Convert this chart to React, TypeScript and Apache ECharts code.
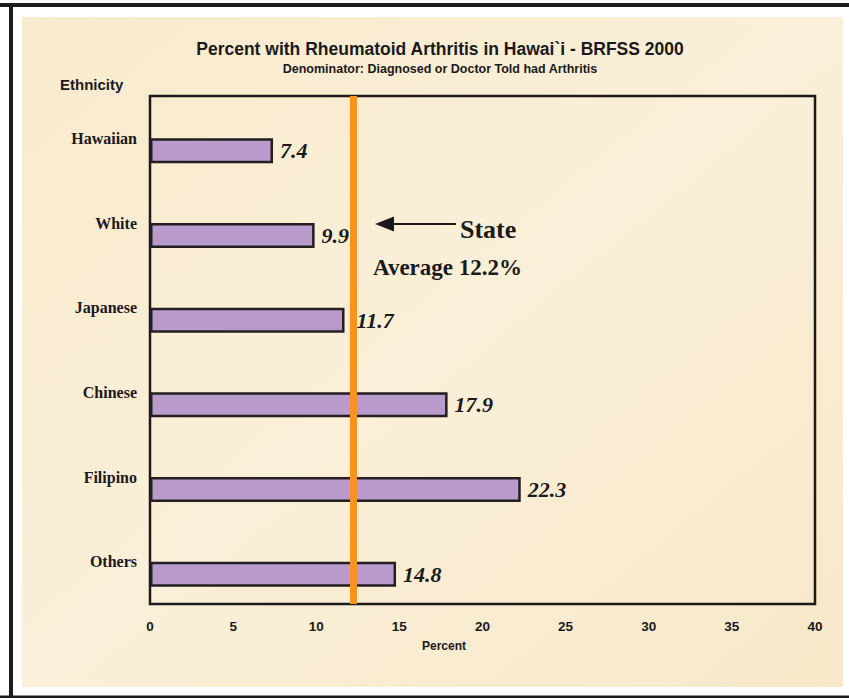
import React, { useEffect, useRef } from "react";
import * as echarts from "echarts";

const categories = ["Hawaiian", "White", "Japanese", "Chinese", "Filipino", "Others"];
const percentValues = [7.4, 9.9, 11.7, 17.9, 22.3, 14.8];
const stateAverage = 12.2;
const xTicks = { min: 0, max: 40, interval: 5 };
const titleText = "Percent with Rheumatoid Arthritis in Hawai`i - BRFSS 2000";
const subtitleText = "Denominator: Diagnosed or Doctor Told had Arthritis";
const yAxisTitle = "Ethnicity";
const xAxisTitle = "Percent";
const annotationLine1 = "State";
const annotationLine2 = "Average 12.2%";

const DECO = "'Liberation Serif', 'DejaVu Serif', serif";
const SANS = "'Liberation Sans', Arial, sans-serif";

export default function App() {
  const ref = useRef<HTMLDivElement>(null);
  useEffect(() => {
    document.body.style.margin = "0";
    const chart = echarts.init(ref.current!, null, { renderer: "svg" });
    const barData = percentValues.map((v) => {
      const nearLine = v < stateAverage && v > stateAverage - 1;
      return nearLine ? { value: v, label: { distance: 12 } } : v;
    });
    chart.setOption({
      animation: false,
      backgroundColor: "#ffffff",
      title: [
        {
          text: titleText,
          left: 435,
          textAlign: "center",
          top: 35,
          textStyle: { fontFamily: SANS, fontSize: 17.5, fontWeight: "bold", color: "#1a1a1a" },
        },
        {
          text: subtitleText,
          left: 435,
          textAlign: "center",
          top: 57,
          textStyle: { fontFamily: SANS, fontSize: 12.5, fontWeight: "bold", color: "#1a1a1a" },
        },
      ],
      graphic: [
        { type: "rect", z: -10, silent: true, shape: { x: 22, y: 17, width: 821, height: 670 },
          style: { fill: new echarts.graphic.LinearGradient(0, 0, 1, 1, [
            { offset: 0, color: "#f8eacd" },
            { offset: 0.5, color: "#faefd8" },
            { offset: 1, color: "#f7e8c9" },
          ]) } },
        { type: "rect", silent: true, shape: { x: 0, y: 3, width: 849, height: 4 }, style: { fill: "#1c1a1a" } },
        { type: "rect", silent: true, shape: { x: 9, y: 3, width: 4, height: 695 }, style: { fill: "#1c1a1a" } },
        { type: "rect", silent: true, shape: { x: 0, y: 695.5, width: 849, height: 2.5 }, style: { fill: "#1c1a1a" } },
        { type: "text", x: 60, y: 84, style: { text: yAxisTitle, font: `bold 15px ${SANS}`, fill: "#1a1a1a", verticalAlign: "middle" } },
        { type: "text", x: 444, y: 646, style: { text: xAxisTitle, font: `bold 12px ${SANS}`, fill: "#1a1a1a", align: "center", verticalAlign: "middle" } },
        { type: "line", shape: { x1: 388, y1: 224, x2: 456, y2: 224 }, style: { stroke: "#1a1a1a", lineWidth: 2 } },
        { type: "polygon", shape: { points: [[375, 224], [394, 216.5], [394, 231.5]] }, style: { fill: "#1a1a1a" } },
        { type: "text", x: 460, y: 229, style: { text: annotationLine1, font: `bold 26px ${DECO}`, fill: "#1a1a1a", verticalAlign: "middle" } },
        { type: "text", x: 373, y: 267, style: { text: annotationLine2, font: `bold 23px ${DECO}`, fill: "#1a1a1a", verticalAlign: "middle" } },
      ],
      grid: {
        left: 150,
        top: 96,
        right: 34,
        bottom: 94,
        show: true,
        backgroundColor: "transparent",
        borderColor: "#1c1a1a",
        borderWidth: 2.5,
      },
      xAxis: {
        type: "value",
        min: xTicks.min,
        max: xTicks.max,
        interval: xTicks.interval,
        axisLine: { show: false },
        axisTick: { show: false },
        splitLine: { show: false },
        axisLabel: { margin: 15, fontFamily: SANS, fontSize: 13.5, fontWeight: "bold", color: "#1a1a1a" },
      },
      yAxis: {
        type: "category",
        data: categories,
        inverse: true,
        axisLine: { show: false },
        axisTick: { show: false },
        axisLabel: { margin: 13, fontFamily: DECO, fontSize: 16, fontWeight: "bold", color: "#1a1a1a" },
      },
      series: [
        {
          type: "bar",
          name: "spacer",
          data: categories.map(() => null),
          barWidth: 25,
          barGap: "0%",
          silent: true,
        },
        {
          type: "bar",
          name: "Percent",
          data: barData,
          barWidth: 25,
          barGap: "0%",
          itemStyle: { color: "#b89bcb", borderColor: "#231f20", borderWidth: 2.5 },
          label: {
            show: true,
            position: "right",
            distance: 7,
            fontFamily: DECO,
            fontSize: 22,
            fontWeight: "bold",
            fontStyle: "italic",
            color: "#1a1a1a",
          },
          markLine: {
            silent: true,
            symbol: ["none", "none"],
            label: { show: false },
            lineStyle: { color: "#f7941d", width: 7, type: "solid", opacity: 1 },
            data: [{ xAxis: stateAverage }],
          },
        },
      ],
    });
    return () => chart.dispose();
  }, []);
  return <div ref={ref} style={{ position: "absolute", left: 0, top: 0, width: 849, height: 698 }} />;
}
